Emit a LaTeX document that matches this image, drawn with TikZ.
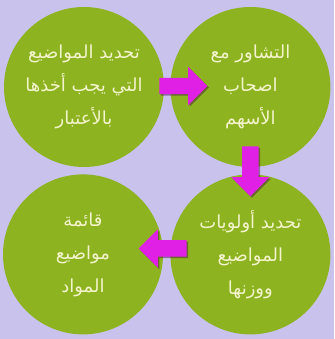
\documentclass[tikz,border=0pt]{standalone}
\usepackage{fontspec}
\newfontfamily\arabicfont[Script=Arabic]{DejaVu Sans}
\TeXXeTstate=1
\usetikzlibrary{positioning,shapes.arrows,shadows,calc}
\definecolor{bgpurple}{HTML}{C9C2EC}
\definecolor{leafgreen}{HTML}{8DB320}
\definecolor{pinkarrow}{HTML}{E020E4}
\definecolor{paletext}{HTML}{F3F3CC}
\tikzset{main node/.style={circle,fill=leafgreen,minimum
size=160pt,inner sep=0pt,text=paletext,align=center,
font=\arabicfont\fontsize{18}{33}\selectfont},
pink arrow/.style={single arrow,fill=pinkarrow,inner xsep=0pt,
inner ysep=8pt,single arrow head extend=11pt,minimum height=48pt,
drop shadow={shadow xshift=1.5pt,shadow yshift=-1.5pt,opacity=0.45,fill=black!70!pinkarrow}}}

\begin{document}
\begin{tikzpicture}
\fill[bgpurple] (0,0) rectangle (334pt,339pt);
\useasboundingbox (0,0) rectangle (334pt,339pt);

\node[main node] (0) at (84pt,252pt) {\beginR تحديد المواضيع\endR\\\beginR التي يجب أخذها\endR\\\beginR بالأعتبار\endR};
\node[main node] (1) [right=6pt of 0] {\beginR التشاور مع\endR\\\beginR اصحاب\endR\\\beginR الأسهم\endR};
\node[main node] (2) [below=7pt of 1] {\beginR تحديد أولويات\endR\\\beginR المواضيع\endR\\\beginR ووزنها\endR};
\node[main node] (3) [left=7pt of 2] {\beginR قائمة\endR\\\beginR مواضيع\endR\\\beginR المواد\endR};

\node[pink arrow] (a) at ($(0.east)+(15pt,1pt)$) {};
\node[pink arrow,rotate=-90,minimum height=50pt] (b) at (1.south) {};
\node[pink arrow,rotate=180] (c) at ($(3.east)+(3.5pt,6pt)$) {};
\end{tikzpicture}
\end{document}
